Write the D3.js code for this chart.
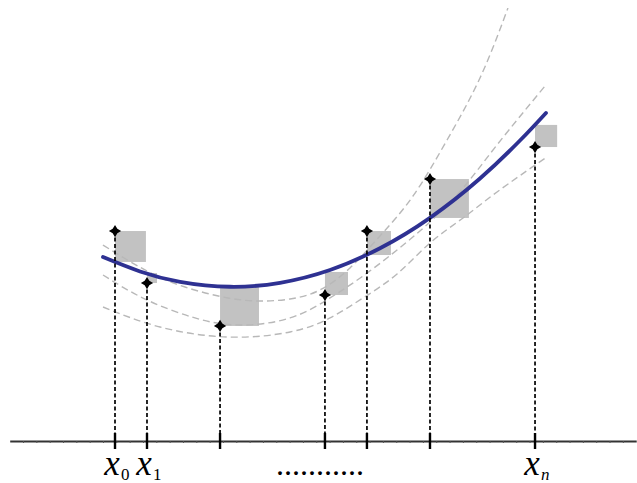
<!DOCTYPE html>
<html><head><meta charset="utf-8">
<script src="https://cdn.jsdelivr.net/npm/d3@7"></script>
<style>html,body{margin:0;padding:0;background:#fff;}svg{display:block;}
.lbl{font-family:"Liberation Serif","Times New Roman",serif;}</style>
</head><body>
<script>
// ---- data (units: one axis tick = 1) ----
const pointX = [7.90, 10.30, 15.78, 23.65, 26.80, 31.53, 39.41];
const pointY = [15.75, 11.85, 8.63, 10.95, 15.75, 19.65, 22.05];
const fitAtPoints = [13.43, 12.60, 11.55, 12.68, 13.95, 16.73, 23.71];

const fitX = [7.00, 9.78, 12.78, 16.53, 20.28, 24.03, 27.78, 31.53, 35.28, 38.28, 40.23];
const fitY = [13.80, 12.72, 11.94, 11.57, 11.87, 12.83, 14.46, 16.74, 19.69, 22.54, 24.61];

const altAX = [7.00, 10.15, 13.15, 16.38, 18.78, 21.03, 23.28, 25.53, 27.78, 30.26, 32.81, 35.28, 37.38];
const altAY = [14.70, 12.83, 11.55, 10.73, 10.50, 10.65, 11.33, 12.98, 15.38, 18.38, 22.58, 27.23, 32.48];
const altBX = [7.00, 10.15, 13.90, 17.28, 21.03, 24.03, 26.51, 29.06, 31.53, 34.01, 36.56, 40.16];
const altBY = [12.45, 10.65, 9.23, 8.70, 9.23, 10.73, 12.38, 14.33, 16.43, 18.98, 22.21, 26.63];
const altCX = [7.00, 11.28, 16.38, 21.03, 24.03, 26.51, 29.06, 31.53, 34.01, 36.56, 40.31];
const altCY = [10.05, 8.55, 7.80, 8.18, 9.23, 10.73, 12.53, 14.85, 16.73, 18.68, 21.31];

const tickValues = d3.range(1, 47);
const labelIndex = [0, 1, 6];
const labelSub = ["0", "1", "n"];
const ellipsis = "...........";

// ---- drawing ----
const W = 637, H = 483;
const svg = d3.select("body").append("svg").attr("width", W).attr("height", H);
const x = d3.scaleLinear().domain([0, 47]).range([9.7, 636.2]);
const y = d3.scaleLinear().domain([0, 33.08]).range([441, 0]);

const zip = (a, b) => a.map((v, i) => [v, b[i]]);
const line = d3.line().x(d => x(d[0])).y(d => y(d[1])).curve(d3.curveNatural);

// squares
const unit = x(1) - x(0);
svg.append("g").selectAll("rect").data(pointX).join("rect")
  .attr("x", (d, i) => x(d))
  .attr("y", (d, i) => y(Math.max(pointY[i], fitAtPoints[i])))
  .attr("width", (d, i) => Math.abs(pointY[i] - fitAtPoints[i]) * unit)
  .attr("height", (d, i) => Math.abs(pointY[i] - fitAtPoints[i]) * unit)
  .attr("fill", "#c2c2c2");

// alternative curves
[[altAX, altAY], [altBX, altBY], [altCX, altCY]].forEach(([a, b]) => {
  svg.append("path").attr("d", line(zip(a, b)))
    .attr("fill", "none").attr("stroke", "#b8b8b8")
    .attr("stroke-width", 1.4).attr("stroke-dasharray", "7,4");
});

// fitted curve
svg.append("path").attr("d", line(zip(fitX, fitY)))
  .attr("fill", "none").attr("stroke", "#2e3192").attr("stroke-width", 3.8)
  .attr("stroke-linecap", "round");

// axis
const axis = d3.axisBottom(x).tickValues(tickValues).tickSize(2).tickSizeOuter(0).tickFormat("");
const ag = svg.append("g").attr("transform", `translate(0,${y(0)})`).call(axis);
ag.select(".domain").attr("stroke", "#333").attr("stroke-width", 2);
ag.selectAll(".tick line").attr("stroke", "#555").attr("stroke-width", 1);

// verticals
svg.append("g").selectAll("line").data(pointX).join("line")
  .attr("x1", d => x(d)).attr("x2", d => x(d))
  .attr("y1", (d, i) => y(pointY[i])).attr("y2", y(0))
  .attr("stroke", "#000").attr("stroke-width", 1.7).attr("stroke-dasharray", "4,2.5");
svg.append("g").selectAll("line").data(pointX).join("line")
  .attr("x1", d => x(d)).attr("x2", d => x(d))
  .attr("y1", y(0) - 8).attr("y2", y(0) + 8)
  .attr("stroke", "#000").attr("stroke-width", 2.4);

// point markers (4-point star)
const star4 = {
  draw(ctx, size) {
    const r = Math.sqrt(size) / 2, ri = r * 0.38;
    ctx.moveTo(0, -r);
    ctx.lineTo(ri, -ri); ctx.lineTo(r, 0); ctx.lineTo(ri, ri);
    ctx.lineTo(0, r); ctx.lineTo(-ri, ri); ctx.lineTo(-r, 0); ctx.lineTo(-ri, -ri);
    ctx.closePath();
  }
};
svg.append("g").selectAll("path").data(pointX).join("path")
  .attr("transform", (d, i) => `translate(${x(d)},${y(pointY[i])})`)
  .attr("d", d3.symbol().type(star4).size(150))
  .attr("fill", "#000");

// labels
const lg = svg.append("g").attr("class", "lbl");
labelIndex.forEach((idx, k) => {
  const cx = x(pointX[idx]) - 3;
  lg.append("text").attr("x", cx).attr("y", 475).attr("text-anchor", "middle")
    .attr("font-size", 35).attr("font-style", "italic").text("x");
  lg.append("text").attr("x", cx + 9).attr("y", 480)
    .attr("font-size", 17).attr("font-style", labelSub[k] === "n" ? "italic" : "normal")
    .text(labelSub[k]);
});
lg.append("text").attr("x", (x(pointX[3]) + x(pointX[4])) / 2 - 26).attr("y", 475)
  .attr("text-anchor", "middle").attr("font-size", 32).text(ellipsis);
</script>
</body></html>
